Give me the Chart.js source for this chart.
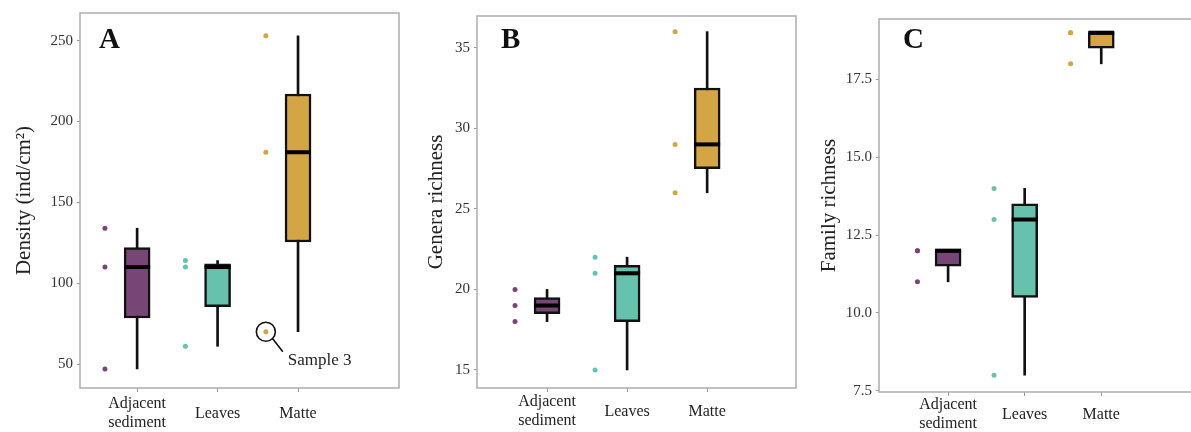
<!DOCTYPE html>
<html>
<head>
<meta charset="utf-8">
<script src="https://cdn.jsdelivr.net/npm/chart.js@4"></script>
<style>
  html, body { margin: 0; padding: 0; background: #fff; overflow: hidden; }
  canvas { position: absolute; top: 0; }
</style>
</head>
<body>
<canvas id="chartA" width="402" height="432" style="left:0px"></canvas>
<canvas id="chartB" width="398" height="432" style="left:401px"></canvas>
<canvas id="chartC" width="420" height="432" style="left:799px"></canvas>
<script>
const categories = [['Adjacent', 'sediment'], 'Leaves', 'Matte'];
const colors = ['#784577', '#67c2ad', '#d3a545'];

// one value per sample (3 samples per habitat)
const densityAdjacent = [47, 110, 134];
const densityLeaves = [61, 110, 114];
const densityMatte = [70, 181, 253];

const generaAdjacent = [18, 19, 20];
const generaLeaves = [15, 21, 22];
const generaMatte = [26, 29, 36];

const familyAdjacent = [11, 12, 12];
const familyLeaves = [8, 13, 14];
const familyMatte = [18, 19, 19];

const densityTicks = [50, 100, 150, 200, 250];
const generaTicks = [15, 20, 25, 30, 35];
const familyTicks = [7.5, 10, 12.5, 15, 17.5];

const jitter = 0.4; // dots sit to the left of each box

Chart.defaults.font.family = '"Liberation Serif", "Times New Roman", serif';
Chart.defaults.animation = false;

// same quantiles as R's default (type 7)
function quantile(sorted, p) {
  const h = (sorted.length - 1) * p;
  const lo = Math.floor(h);
  const hi = Math.min(lo + 1, sorted.length - 1);
  return sorted[lo] + (h - lo) * (sorted[hi] - sorted[lo]);
}

function boxDatasets(groups) {
  const stats = groups.map(g => {
    const s = [...g].sort((a, b) => a - b);
    return { min: s[0], q1: quantile(s, 0.25), med: quantile(s, 0.5), q3: quantile(s, 0.75), max: s[s.length - 1] };
  });
  const dots = [];
  const dotColors = [];
  groups.forEach((g, i) => g.forEach(v => {
    dots.push({ x: i + 1 - jitter, y: v });
    dotColors.push(colors[i]);
  }));
  return [
    {
      type: 'bar',
      data: stats.map((s, i) => ({ x: i + 1, y: [s.min, s.max] })),
      backgroundColor: '#111',
      borderWidth: 0,
      barThickness: 2,
      grouped: false,
      order: 3
    },
    {
      type: 'bar',
      data: stats.map((s, i) => ({ x: i + 1, y: [s.q1, s.q3] })),
      backgroundColor: colors,
      borderColor: '#111',
      borderWidth: 2.5,
      borderSkipped: false,
      barThickness: 26,
      grouped: false,
      order: 2
    },
    {
      type: 'scatter',
      data: stats.map((s, i) => ({ x: i + 1, y: s.med })),
      pointStyle: 'line',
      pointRadius: 13,
      pointBorderColor: '#000',
      pointBorderWidth: 4,
      order: 1
    },
    {
      type: 'scatter',
      data: dots,
      pointRadius: 2.5,
      pointBackgroundColor: dotColors,
      pointBorderWidth: 0,
      order: 0
    }
  ];
}

const framePlugin = {
  id: 'frame',
  beforeDatasetsDraw(chart) {
    const { ctx, chartArea: a } = chart;
    ctx.save();
    ctx.strokeStyle = '#adadad';
    ctx.lineWidth = 1.5;
    ctx.strokeRect(a.left, a.top, a.right - a.left, a.bottom - a.top);
    ctx.restore();
  },
  afterDraw(chart, args, opts) {
    const { ctx, chartArea: a } = chart;
    ctx.save();
    ctx.fillStyle = '#111';
    ctx.font = 'bold 29px "Liberation Serif", serif';
    ctx.textBaseline = 'alphabetic';
    ctx.fillText(opts.letter, a.left + opts.dx, opts.y);
    ctx.restore();
  }
};

// magnifier callout on the low Matte sample in panel A
const samplePlugin = {
  id: 'sampleNote',
  afterDatasetsDraw(chart) {
    const { ctx } = chart;
    const x = chart.scales.x.getPixelForValue(3 - jitter);
    const y = chart.scales.y.getPixelForValue(densityMatte[0]);
    const r = 9.5;
    ctx.save();
    ctx.strokeStyle = '#111';
    ctx.lineWidth = 1.6;
    ctx.beginPath();
    ctx.arc(x, y, r, 0, Math.PI * 2);
    ctx.stroke();
    ctx.beginPath();
    ctx.moveTo(x + r * 0.7, y + r * 0.72);
    ctx.lineTo(x + 17, y + 20);
    ctx.stroke();
    ctx.fillStyle = '#222';
    ctx.font = '17px "Liberation Serif", serif';
    ctx.fillText('Sample 3', x + 22, y + 33);
    ctx.restore();
  }
};

function makeChart(id, cfg) {
  return new Chart(document.getElementById(id), {
    type: 'bar',
    data: { datasets: boxDatasets(cfg.groups) },
    plugins: [framePlugin].concat(cfg.extra || []),
    options: {
      responsive: false,
      events: [],
      layout: { padding: cfg.padding, autoPadding: false },
      plugins: {
        legend: { display: false },
        tooltip: { enabled: false },
        frame: { letter: cfg.letter, dx: cfg.letterDx, y: 48 }
      },
      scales: {
        x: {
          type: 'linear',
          offset: false,
          min: cfg.xMin,
          max: cfg.xMax,
          afterBuildTicks: s => { s.ticks = categories.map((c, i) => ({ value: i + 1 })); },
          afterFit: s => { s.height = cfg.xHeight; },
          ticks: {
            callback: v => categories[v - 1],
            crossAlign: 'center',
            maxRotation: 0,
            autoSkip: false,
            padding: cfg.xPad,
            color: '#222',
            font: { size: 16 }
          },
          grid: { offset: false, drawOnChartArea: false, drawTicks: true, tickLength: 4, color: '#999' },
          border: { display: false }
        },
        y: {
          min: cfg.yMin,
          max: cfg.yMax,
          afterBuildTicks: s => { s.ticks = cfg.yTicks.map(v => ({ value: v })); },
          afterFit: s => { s.width = cfg.yWidth; },
          ticks: {
            callback: cfg.fmt,
            padding: 4,
            color: '#333',
            font: { size: 15 }
          },
          grid: { drawOnChartArea: false, drawTicks: true, tickLength: 3, color: '#999' },
          border: { display: false },
          title: {
            display: true,
            text: cfg.yTitle,
            color: '#222',
            font: { size: 21 },
            padding: { top: cfg.titlePad, bottom: 0 }
          }
        }
      }
    }
  });
}

makeChart('chartA', {
  groups: [densityAdjacent, densityLeaves, densityMatte],
  yTicks: densityTicks,
  yTitle: 'Density (ind/cm²)',
  fmt: v => String(v),
  yMin: 35.2, yMax: 267.1,
  xMin: 0.29, xMax: 4.255,
  padding: { top: 13, right: 3, left: 0, bottom: 0 },
  yWidth: 80, xHeight: 44, xPad: 12, titlePad: 12,
  letter: 'A', letterDx: 19,
  extra: [samplePlugin]
});

makeChart('chartB', {
  groups: [generaAdjacent, generaLeaves, generaMatte],
  yTicks: generaTicks,
  yTitle: 'Genera richness',
  fmt: v => String(v),
  yMin: 13.88, yMax: 36.97,
  xMin: 0.125, xMax: 4.11,
  padding: { top: 16, right: 3, left: 0, bottom: 0 },
  yWidth: 76, xHeight: 44, xPad: 10, titlePad: 23,
  letter: 'B', letterDx: 24
});

makeChart('chartC', {
  groups: [familyAdjacent, familyLeaves, familyMatte],
  yTicks: familyTicks,
  yTitle: 'Family richness',
  fmt: v => v.toFixed(1),
  yMin: 7.46, yMax: 19.44,
  xMin: 0.098, xMax: 4.42,
  padding: { top: 19, right: 9, left: 0, bottom: 0 },
  yWidth: 80, xHeight: 40, xPad: 9, titlePad: 18,
  letter: 'C', letterDx: 24
});
</script>
</body>
</html>
